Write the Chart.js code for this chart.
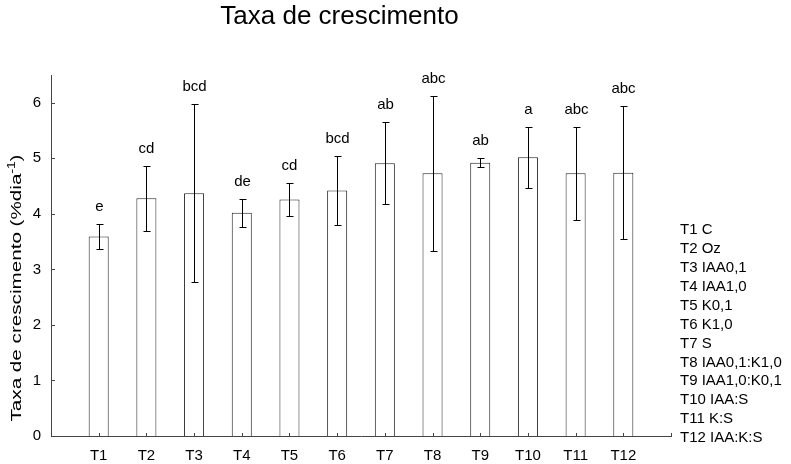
<!DOCTYPE html>
<html>
<head>
<meta charset="utf-8">
<script src="https://cdn.jsdelivr.net/npm/chart.js@4/dist/chart.umd.min.js"></script>
<style>
  body { margin: 0; background: #fff; }
  #wrap { width: 791px; height: 464px; }
</style>
</head>
<body>
<div id="wrap"><canvas id="growthChart"></canvas></div>
<script>
// ===== DATA =====
const categories = ["T1", "T2", "T3", "T4", "T5", "T6", "T7", "T8", "T9", "T10", "T11", "T12"];
const means = [3.59, 4.28, 4.37, 4.02, 4.26, 4.42, 4.91, 4.73, 4.92, 5.02, 4.73, 4.74];
const errors = [0.22, 0.59, 1.60, 0.25, 0.30, 0.62, 0.74, 1.40, 0.08, 0.55, 0.84, 1.20];
const letters = ["e", "cd", "bcd", "de", "cd", "bcd", "ab", "abc", "ab", "a", "abc", "abc"];
const treatments = [
    "T1 C", "T2 Oz", "T3 IAA0,1", "T4 IAA1,0", "T5 K0,1", "T6 K1,0", "T7 S",
    "T8 IAA0,1:K1,0", "T9 IAA1,0:K0,1", "T10 IAA:S", "T11 K:S", "T12 IAA:K:S"
];
const yTitle = ["Taxa de crescimento (%dia", "-1", ")"];

const FONT = "Arial, 'Liberation Sans', sans-serif";
Chart.defaults.font.family = FONT;
Chart.defaults.font.size = 15;
Chart.defaults.color = "#000";

// error bars + significance letters
const errorBars = {
    id: "errorBars",
    afterDatasetsDraw(chart) {
        const { ctx, scales: { x, y } } = chart;
        ctx.save();
        ctx.strokeStyle = "#000";
        ctx.lineWidth = 1;
        ctx.fillStyle = "#000";
        ctx.font = "15px " + FONT;
        ctx.textAlign = "center";
        ctx.textBaseline = "alphabetic";
        means.forEach((m, i) => {
            const px = Math.round(x.getPixelForValue(i + 1)) + 0.5;
            const top = Math.round(y.getPixelForValue(m + errors[i])) + 0.5;
            const bot = Math.round(y.getPixelForValue(m - errors[i])) + 0.5;
            ctx.beginPath();
            ctx.moveTo(px, top);
            ctx.lineTo(px, bot);
            ctx.moveTo(px - 3, top);
            ctx.lineTo(px + 4, top);
            ctx.moveTo(px - 3, bot);
            ctx.lineTo(px + 4, bot);
            ctx.stroke();
            ctx.fillText(letters[i], px, top - 14);
        });
        ctx.restore();
    }
};

// inward tick marks, y title and the treatment list on the right
const extras = {
    id: "extras",
    afterDraw(chart) {
        const { ctx, chartArea, scales: { x, y } } = chart;
        ctx.save();
        ctx.strokeStyle = "#444";
        ctx.lineWidth = 1;
        ctx.beginPath();
        y.ticks.forEach(t => {
            const py = Math.round(y.getPixelForValue(t.value)) + 0.5;
            ctx.moveTo(chartArea.left, py);
            ctx.lineTo(chartArea.left + 4, py);
        });
        x.ticks.forEach(t => {
            if (t.value === 0) return;
            const px = Math.round(x.getPixelForValue(t.value)) + 0.5;
            ctx.moveTo(px, chartArea.bottom);
            ctx.lineTo(px, chartArea.bottom - 3);
        });
        ctx.stroke();

        // treatment key
        ctx.fillStyle = "#000";
        ctx.font = "15px " + FONT;
        ctx.textAlign = "left";
        ctx.textBaseline = "middle";
        const step = 18.9;
        const last = chartArea.bottom + 2;
        treatments.forEach((name, i) => {
            ctx.fillText(name, chartArea.right + 9, last - (treatments.length - 1 - i) * step);
        });

        // y axis title, stretched along its length like the original
        ctx.font = "15px " + FONT;
        const w1 = ctx.measureText(yTitle[0]).width;
        const w3 = ctx.measureText(yTitle[2]).width;
        ctx.font = "10px " + FONT;
        const w2 = ctx.measureText(yTitle[1]).width;
        const total = w1 + w2 + w3;
        const stretch = 267 / total;
        ctx.translate(17, chartArea.bottom - 148);
        ctx.rotate(-Math.PI / 2);
        ctx.scale(stretch, 1);
        ctx.font = "15px " + FONT;
        ctx.fillText(yTitle[0], -total / 2, 0);
        ctx.fillText(yTitle[2], -total / 2 + w1 + w2, 0);
        ctx.font = "10px " + FONT;
        ctx.fillText(yTitle[1], -total / 2 + w1, -5);
        ctx.restore();
    }
};

new Chart(document.getElementById("growthChart"), {
    type: "bar",
    data: {
        datasets: [{
            data: categories.map((c, i) => ({ x: i + 1, y: means[i] })),
            backgroundColor: "#fff",
            borderColor: "#222",
            borderWidth: 1,
            categoryPercentage: 1,
            barPercentage: 0.42
        }]
    },
    options: {
        responsive: true,
        maintainAspectRatio: false,
        animation: false,
        layout: { padding: { left: 8, right: 120, top: 0, bottom: 0 } },
        plugins: {
            legend: { display: false },
            tooltip: { enabled: false },
            title: {
                display: true,
                text: "Taxa de crescimento",
                font: { size: 26, weight: "normal" },
                color: "#000",
                padding: { top: 1.1, bottom: 42.7 }
            }
        },
        scales: {
            x: {
                type: "linear",
                offset: false,
                min: 0,
                max: 13,
                grid: { display: false, drawTicks: false },
                border: { display: true, color: "#444", width: 1 },
                ticks: {
                    stepSize: 1,
                    autoSkip: false,
                    maxRotation: 0,
                    padding: 11,
                    callback: v => categories[v - 1] || ""
                },
                afterFit: s => { s.height = 28; }
            },
            y: {
                min: 0,
                max: 6.5,
                grid: { display: false, drawTicks: false },
                border: { display: true, color: "#444", width: 1 },
                ticks: {
                    stepSize: 1,
                    includeBounds: false,
                    padding: 10,
                    callback: v => Number.isInteger(v) ? v : ""
                },
                afterFit: s => { s.width = 43; }
            }
        }
    },
    plugins: [errorBars, extras]
});
</script>
</body>
</html>
